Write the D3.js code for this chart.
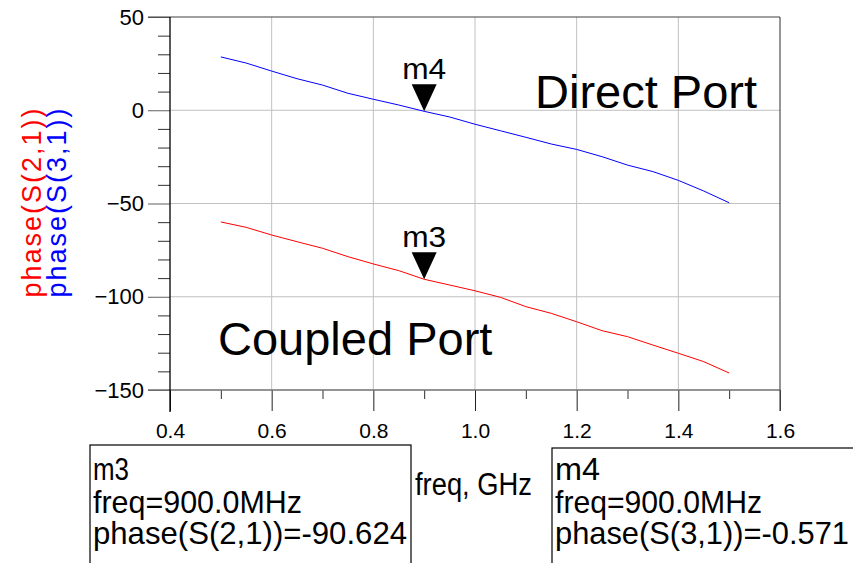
<!DOCTYPE html>
<html>
<head>
<meta charset="utf-8">
<script src="https://cdn.jsdelivr.net/npm/d3@7"></script>
<style>
  html, body { margin: 0; padding: 0; background: #fff; }
  svg { display: block; font-family: "Liberation Sans", Arial, sans-serif; }
</style>
</head>
<body>
<svg id="chart" width="853" height="563"></svg>
<script>
// ---- data ----
const freqGHz = [0.50,0.55,0.60,0.65,0.70,0.75,0.80,0.85,0.90,0.95,1.00,1.05,1.10,1.15,1.20,1.25,1.30,1.35,1.40,1.45,1.50];
const phaseS31 = [28.6,25.3,21.0,16.9,13.5,9.1,5.9,2.8,-0.571,-3.6,-7.5,-11.0,-14.5,-18.1,-21.0,-24.9,-29.4,-32.9,-37.6,-43.3,-49.6];
const phaseS21 = [-59.9,-62.8,-66.9,-70.5,-74.0,-78.5,-82.4,-86.0,-90.624,-93.7,-96.8,-100.3,-105.3,-108.9,-113.4,-118.2,-121.4,-125.9,-130.3,-134.8,-140.9];
const xTicks = [0.4,0.6,0.8,1.0,1.2,1.4,1.6];
const xMinor = [0.5,0.7,0.9,1.1,1.3,1.5];
const yTicks = [50,0,-50,-100,-150];
const yMinor = [40,30,20,10,-10,-20,-30,-40,-60,-70,-80,-90,-110,-120,-130,-140];
const markers = [
  {name:"m4", freq:0.9, value:-0.571, trace:"phase(S(3,1))"},
  {name:"m3", freq:0.9, value:-90.624, trace:"phase(S(2,1))"}
];

const svg = d3.select("#chart");
const x = d3.scaleLinear().domain([0.4,1.6]).range([170,780]);
const y = d3.scaleLinear().domain([-150,50]).range([390,17]);

const gridColor = "#c0c0c0";
const frameColor = "#606060";

// gridlines
const grid = svg.append("g");
grid.selectAll("line.hg").data(yTicks.filter(v => v > -150 && v < 50)).join("line")
  .attr("x1", x(0.4)).attr("x2", x(1.6)).attr("y1", d => y(d)).attr("y2", d => y(d))
  .attr("stroke", gridColor).attr("stroke-width", 1);
grid.selectAll("line.vg").data(xTicks.filter(v => v > 0.4 && v < 1.6)).join("line")
  .attr("x1", d => x(d)).attr("x2", d => x(d)).attr("y1", y(50)).attr("y2", y(-150))
  .attr("stroke", gridColor).attr("stroke-width", 1);

// y axis (major + minor)
const yAxis = svg.append("g").attr("transform", `translate(${x(0.4)},0)`)
  .call(d3.axisLeft(y).tickValues(yTicks).tickSize(22).tickPadding(4).tickFormat(d3.format("d")));
yAxis.select(".domain").remove();
yAxis.selectAll("line").attr("stroke", frameColor);
yAxis.selectAll("text").attr("font-size", 22).attr("fill", "#000")
  .style("font-family", "'Liberation Sans', Arial, sans-serif");
const yAxisMinor = svg.append("g").attr("transform", `translate(${x(0.4)},0)`)
  .call(d3.axisLeft(y).tickValues(yMinor).tickSize(12).tickFormat(""));
yAxisMinor.select(".domain").remove();
yAxisMinor.selectAll("line").attr("stroke", "#303030");

// x axis (major + minor)
const xAxis = svg.append("g").attr("transform", `translate(0,${y(-150)})`)
  .call(d3.axisBottom(x).tickValues(xTicks).tickSize(21).tickPadding(12).tickFormat(d3.format(".1f")));
xAxis.select(".domain").remove();
xAxis.selectAll("line").attr("stroke", "#202020");
xAxis.selectAll("text").attr("font-size", 21).attr("fill", "#000")
  .style("font-family", "'Liberation Sans', Arial, sans-serif");
const xAxisMinor = svg.append("g").attr("transform", `translate(0,${y(-150)})`)
  .call(d3.axisBottom(x).tickValues(xMinor).tickSize(9).tickFormat(""));
xAxisMinor.select(".domain").remove();
xAxisMinor.selectAll("line").attr("stroke", "#303030");

// frame
svg.append("line").attr("x1", x(0.4)-22).attr("x2", x(1.6)).attr("y1", y(50)).attr("y2", y(50))
  .attr("stroke", "#404040").attr("stroke-width", 1.2);
svg.append("line").attr("x1", x(0.4)-22).attr("x2", x(1.6)).attr("y1", y(-150)).attr("y2", y(-150))
  .attr("stroke", "#707070").attr("stroke-width", 1.5);
svg.append("line").attr("x1", x(1.6)).attr("x2", x(1.6)).attr("y1", y(50)).attr("y2", y(-150)+21)
  .attr("stroke", "#505050").attr("stroke-width", 1.2);
svg.append("line").attr("x1", x(0.4)).attr("x2", x(0.4)).attr("y1", y(50)).attr("y2", y(-150)+22)
  .attr("stroke", "#000").attr("stroke-width", 1.3);

// traces
const line = d3.line().x((d, i) => x(freqGHz[i])).y(d => y(d));
svg.append("path").datum(phaseS31).attr("d", line)
  .attr("fill", "none").attr("stroke", "#0000ff").attr("stroke-width", 1);
svg.append("path").datum(phaseS21).attr("d", line)
  .attr("fill", "none").attr("stroke", "#ff0000").attr("stroke-width", 1);

// markers
markers.forEach(m => {
  const px = x(m.freq), py = y(m.value);
  svg.append("path")
    .attr("d", `M${px},${py} L${px-12.5},${py-27} L${px+12.5},${py-27} Z`)
    .attr("fill", "#000");
  svg.append("text").attr("x", px).attr("y", py - 32)
    .attr("text-anchor", "middle").attr("font-size", 30)
    .attr("textLength", 44).attr("lengthAdjust", "spacingAndGlyphs").text(m.name);
});

// annotations
svg.append("text").attr("x", 535).attr("y", 108).attr("font-size", 47).text("Direct Port");
svg.append("text").attr("x", 218).attr("y", 355).attr("font-size", 47).text("Coupled Port");

// y-axis label (two coloured lines)
svg.append("text").attr("transform", "translate(41,203) rotate(-90)")
  .attr("text-anchor", "middle").attr("font-size", 27).attr("fill", "#ff0000")
  .attr("textLength", 189).attr("lengthAdjust", "spacing").text("phase(S(2,1))");
svg.append("text").attr("transform", "translate(66,203) rotate(-90)")
  .attr("text-anchor", "middle").attr("font-size", 27).attr("fill", "#0000ff")
  .attr("textLength", 189).attr("lengthAdjust", "spacing").text("phase(S(3,1))");

// x-axis label
svg.append("text").attr("x", 415).attr("y", 495).attr("font-size", 31)
  .attr("textLength", 117).attr("lengthAdjust", "spacingAndGlyphs").text("freq, GHz");

// marker readout boxes
const boxes = [
  {m: markers[1], bx: 90, by: 445, bw: 321, tx: 93, widths: [36, 209, 314]},
  {m: markers[0], bx: 552, by: 448, bw: 400, tx: 555, widths: [45, 207, 294]}
];
boxes.forEach(b => {
  svg.append("rect").attr("x", b.bx).attr("y", b.by).attr("width", b.bw).attr("height", 200)
    .attr("fill", "none").attr("stroke", "#000").attr("stroke-width", 1.2);
  const lines = [b.m.name, `freq=${(b.m.freq*1000).toFixed(1)}MHz`, `${b.m.trace}=${b.m.value}`];
  const baselines = [480, 513, 544];
  lines.forEach((t, i) => {
    svg.append("text").attr("x", b.tx).attr("y", baselines[i]).attr("font-size", 32)
      .attr("textLength", b.widths[i]).attr("lengthAdjust", "spacingAndGlyphs").text(t);
  });
});
</script>
</body>
</html>
